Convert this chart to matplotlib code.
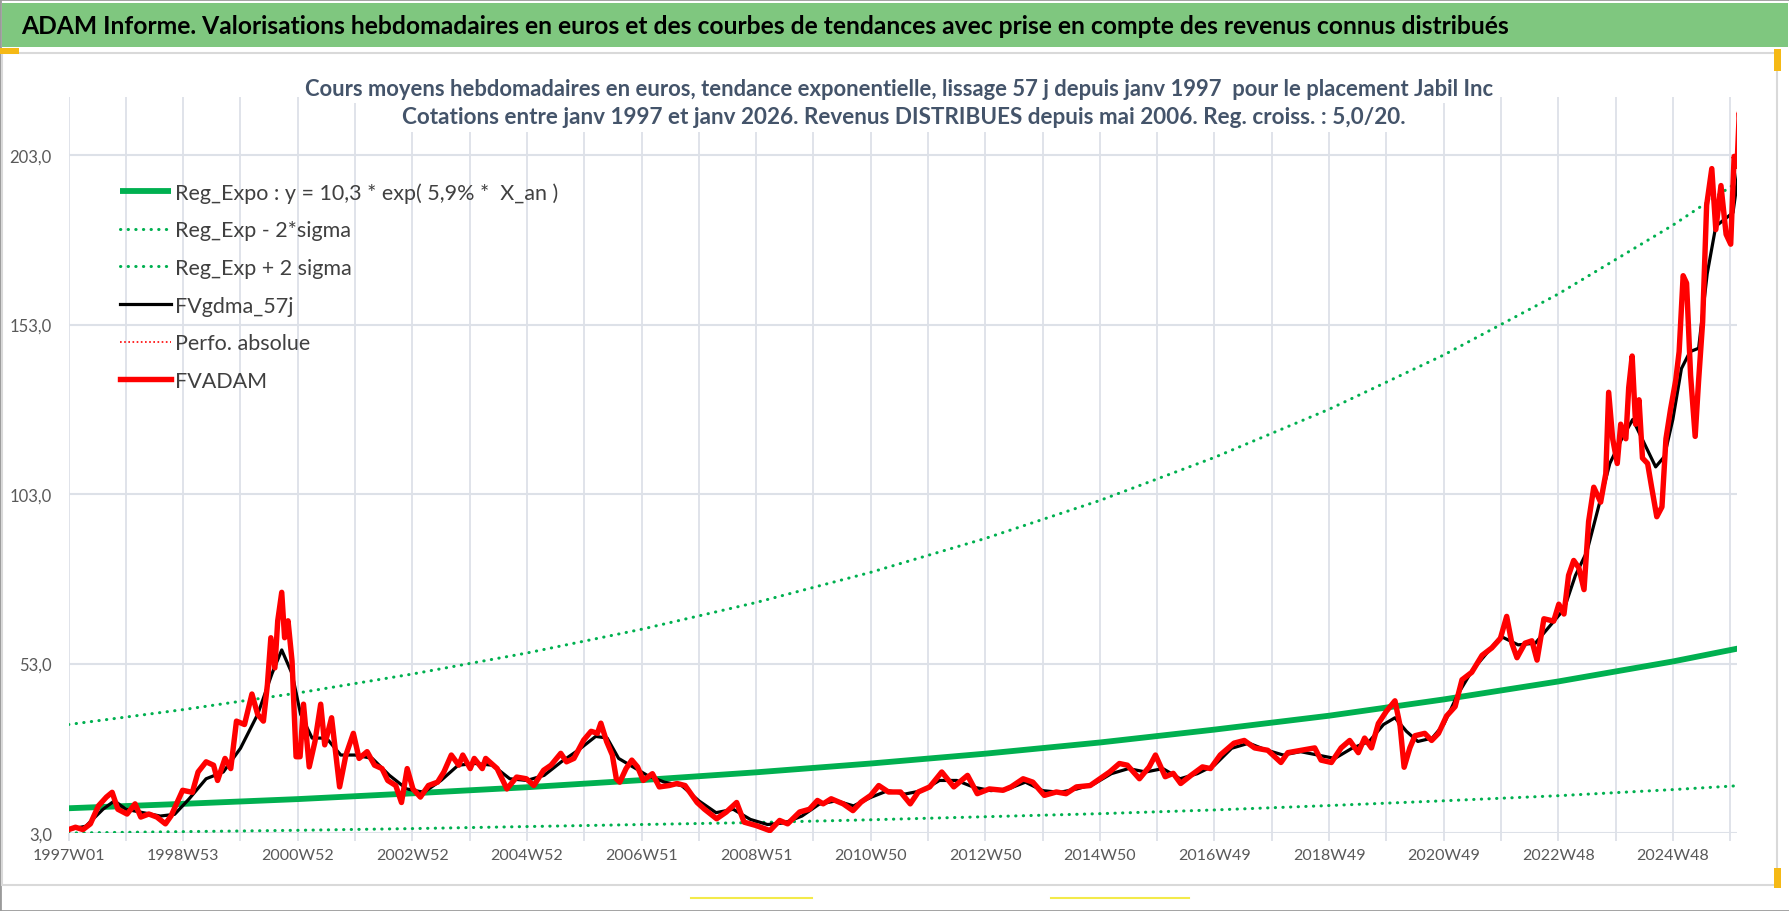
import matplotlib
matplotlib.use("Agg")
from matplotlib import pyplot as plt
from matplotlib.lines import Line2D
from matplotlib.patches import Rectangle

plt.rcParams['font.family'] = ['Lato', 'DejaVu Sans']

# années écoulées depuis 1997W01
t_adam = [0.0, 0.12, 0.25, 0.38, 0.52, 0.66, 0.76, 0.86, 1.02, 1.16, 1.26, 1.4, 1.54, 1.69, 1.79,
          1.99, 2.16, 2.26, 2.40, 2.53, 2.60, 2.73, 2.83, 2.93, 3.07, 3.20, 3.30, 3.40, 3.47, 3.53,
          3.60, 3.65, 3.72, 3.77, 3.83, 3.90, 3.97, 4.04, 4.10, 4.20, 4.30, 4.40, 4.47, 4.59, 4.73,
          4.84, 4.97, 5.07, 5.21, 5.34, 5.47, 5.57, 5.71, 5.81, 5.91, 6.01, 6.14, 6.28, 6.44, 6.55,
          6.68, 6.81, 6.88, 7.01, 7.08, 7.22, 7.28, 7.48, 7.65, 7.82, 7.99, 8.12, 8.29, 8.42, 8.59,
          8.69, 8.82, 8.99, 9.12, 9.23, 9.29, 9.39, 9.49, 9.56, 9.62, 9.73, 9.83, 9.93, 10.03, 10.19,
          10.31, 10.48, 10.62, 10.76, 10.97, 11.10, 11.31, 11.48, 11.66, 11.79, 12.0, 12.24, 12.41,
          12.55, 12.76, 12.93, 13.07, 13.17, 13.31, 13.52, 13.69, 13.83, 14.0, 14.14, 14.31, 14.52,
          14.69, 14.83, 15.03, 15.24, 15.45, 15.69, 15.86, 16.07, 16.31, 16.45, 16.66, 16.83, 17.03,
          17.24, 17.41, 17.59, 17.83, 18.0, 18.17, 18.34, 18.48, 18.69, 18.86, 18.97, 19.14, 19.28,
          19.41, 19.59, 19.79, 19.93, 20.10, 20.34, 20.52, 20.70, 20.93, 21.16, 21.28, 21.51, 21.75,
          21.86, 22.04, 22.21, 22.36, 22.51, 22.62, 22.74, 22.86, 23.0, 23.15, 23.24, 23.31, 23.41,
          23.50, 23.67, 23.79, 23.91, 24.05, 24.20, 24.32, 24.49, 24.67, 24.84, 24.99, 25.10, 25.19,
          25.28, 25.42, 25.54, 25.63, 25.75, 25.92, 26.01, 26.10, 26.18, 26.27, 26.36, 26.45, 26.53,
          26.62, 26.74, 26.83, 26.88, 26.95, 27.03, 27.09, 27.18, 27.23, 27.29, 27.35, 27.41, 27.47,
          27.56, 27.63, 27.72, 27.81, 27.88, 27.96, 28.05, 28.11, 28.18, 28.24, 28.31, 28.39, 28.45,
          28.52, 28.59, 28.68, 28.75, 28.84, 28.93, 29.01, 29.07, 29.12, 29.16, 29.19]
fvadam = [4.0, 4.7, 4.0, 5.7, 11.0, 13.6, 15.0, 10.0, 8.6, 11.6, 7.7, 8.6, 7.7, 5.7, 8.1,
          15.6, 15.0, 21.0, 24.0, 23.0, 18.5, 25.0, 22.0, 36.0, 35.0, 44.0, 38.0, 36.0, 46.8, 60.6,
          51.7, 65.6, 74.0, 60.6, 65.6, 53.7, 25.5, 25.5, 41.0, 22.5, 30.0, 41.0, 29.0, 37.0, 16.6,
          26.0, 32.4, 25.0, 27.0, 23.0, 22.0, 18.5, 17.0, 12.0, 22.0, 16.0, 13.6, 17.0, 18.0, 21.0,
          26.0, 23.0, 26.0, 22.0, 25.0, 22.0, 25.0, 22.0, 16.0, 19.5, 19.0, 17.0, 21.5, 23.0, 26.5,
          24.0, 25.0, 30.4, 33.0, 32.4, 35.4, 30.0, 26.0, 19.0, 18.0, 22.0, 24.5, 22.5, 18.5, 20.5,
          16.6, 17.0, 17.6, 17.0, 12.0, 10.0, 7.2, 9.2, 12.0, 6.2, 5.2, 3.7, 6.7,
          5.7, 9.2, 10.0, 12.6, 11.6, 13.1, 11.6, 9.6, 12.1, 14.1, 17.0, 15.1, 15.1,
          11.6, 15.1, 16.6, 21.0, 16.6, 20.0, 14.6, 16.0, 15.6, 16.6, 19.0, 18.0, 14.1,
          15.1, 14.6, 16.6, 17.0, 19.0, 21.0, 23.5, 23.0, 19.0, 22.5, 26.0, 19.6, 20.6,
          17.6, 20.0, 22.5, 22.0, 26.0, 29.5, 30.3, 28.1, 27.4, 23.8, 26.7, 27.4, 28.1,
          24.5, 23.8, 28.1, 30.3, 26.7, 31.0, 28.1, 35.3, 38.9, 42.0, 34.6, 22.4, 28.1,
          31.7, 32.4, 30.3, 32.4, 37.5, 40.3, 48.2, 50.4, 55.4, 57.6, 60.4, 66.9, 59.0,
          54.7, 59.0, 59.7, 54.0, 66.2, 65.5, 70.5, 67.6, 79.0, 83.4, 81.2, 74.8, 94.9,
          105.0, 100.6, 109.0, 133.0, 119.3, 112.0, 123.6, 119.3, 134.4, 143.7, 123.6, 130.8, 113.6,
          112.0, 105.0, 96.3, 99.2, 119.3, 128.0, 136.5, 145.0, 167.4, 165.2, 138.0, 120.0, 136.5,
          153.7, 188.2, 199.0, 181.0, 194.0, 179.6, 176.7, 202.6, 199.7, 215.5, 208.3]

t_gdma = [0.0, 0.3, 0.6, 0.8, 1.0, 1.3, 1.6, 1.85, 2.1, 2.4, 2.7, 3.0, 3.3, 3.55, 3.72, 3.9,
          4.05, 4.25, 4.5, 4.75, 5.0, 5.3, 5.6, 5.9, 6.2, 6.5, 6.8, 7.1, 7.4, 7.7, 8.0, 8.3,
          8.6, 8.9, 9.2, 9.4, 9.6, 9.85, 10.1, 10.4, 10.7, 11.0, 11.3, 11.6, 11.9, 12.2, 12.5,
          12.8, 13.1, 13.4, 13.7, 14.0, 14.3, 14.6, 14.9, 15.2, 15.5, 15.8, 16.1, 16.4, 16.7,
          17.0, 17.3, 17.6, 17.9, 18.2, 18.5, 18.8, 19.1, 19.4, 19.7, 20.0, 20.3, 20.6, 20.9,
          21.2, 21.5, 21.8, 22.1, 22.4, 22.7, 22.95, 23.15, 23.35, 23.55, 23.8, 24.0, 24.25,
          24.5, 24.75, 25.0, 25.3, 25.6, 25.85, 26.1, 26.3, 26.5, 26.7, 26.9, 27.1, 27.3, 27.5,
          27.7, 27.85, 28.0, 28.15, 28.3, 28.45, 28.6, 28.75, 28.9, 29.05, 29.19]
fvgdma = [4.0, 5.0, 10.0, 12.5, 10.0, 9.0, 8.0, 8.5, 13.0, 19.0, 21.0, 28.0, 38.0, 50.0, 57.0, 50.0,
          38.0, 31.0, 31.0, 26.0, 26.0, 25.0, 20.0, 16.0, 15.0, 18.5, 23.0, 23.5, 23.0, 19.0, 18.5, 20.0,
          24.0, 27.5, 31.5, 31.0, 25.0, 22.5, 20.0, 18.0, 17.0, 12.5, 9.0, 10.0, 7.0, 5.5, 6.0,
          8.0, 11.5, 12.5, 11.0, 13.5, 15.5, 14.5, 15.5, 18.5, 18.5, 16.5, 15.5, 16.0, 18.0,
          15.5, 15.0, 16.0, 17.5, 20.5, 22.0, 21.0, 22.0, 19.0, 20.5, 23.0, 28.0, 29.5, 27.5,
          26.0, 27.0, 26.0, 25.0, 28.0, 30.0, 35.0, 37.0, 33.0, 30.0, 31.0, 35.0, 44.0,
          51.0, 56.0, 61.0, 58.5, 59.0, 64.0, 69.0, 79.0, 86.0, 99.0, 112.0, 119.0, 125.0, 118.0,
          111.0, 114.0, 125.0, 140.0, 145.0, 146.0, 168.0, 182.0, 184.0, 186.0, 203.0]

t_reg = [0, 2, 4, 6, 8, 10, 12, 14, 16, 18, 20, 22, 24, 26, 28, 29.19]
reg_expo = [10.3, 11.6, 13.0, 14.7, 16.5, 18.6, 20.9, 23.5, 26.4, 29.7, 33.5, 37.6, 42.4, 47.7, 53.6, 57.6]
reg_moins = [3.0, 3.4, 3.8, 4.3, 4.9, 5.5, 6.1, 6.9, 7.8, 8.7, 9.8, 11.1, 12.5, 14.0, 15.8, 17.0]
reg_plus = [35.0, 39.4, 44.3, 49.9, 56.1, 63.1, 71.0, 79.9, 89.9, 101.1, 113.8, 128.0, 144.0, 162.0, 182.3, 195.7]

xlabels = ['1997W01', '1998W53', '2000W52', '2002W52', '2004W52', '2006W51', '2008W51',
           '2010W50', '2012W50', '2014W50', '2016W49', '2018W49', '2020W49', '2022W48', '2024W48']
yticks = [3, 53, 103, 153, 203]

VERT = '#00B050'
GRID = '#DDE1E8'

fig = plt.figure(figsize=(17.9, 9.12), dpi=100)
W, H = 1790, 912

def fx(px):
    return px / W
def fy(py):
    return 1 - py / H

# cadre et bandeau
fig.patches.append(Rectangle((0, 0), 1, 1, transform=fig.transFigure, fill=False,
                             edgecolor='#9a9a9a', lw=2, zorder=0))
fig.patches.append(Rectangle((fx(2), fy(48)), fx(1786), 44 / H, transform=fig.transFigure,
                             facecolor='#7fc77f', edgecolor='none', zorder=1))
fig.patches.append(Rectangle((fx(2), fy(886)), fx(1775), 832 / H, transform=fig.transFigure,
                             fill=False, edgecolor='#d9d9d9', lw=1.5, zorder=1))
fig.patches.append(Rectangle((0, fy(55)), fx(19), 6 / H, transform=fig.transFigure,
                             facecolor='#f5b915', edgecolor='none', zorder=2))
fig.patches.append(Rectangle((fx(1774), fy(72)), fx(7), 22 / H, transform=fig.transFigure,
                             facecolor='#f5b915', edgecolor='none', zorder=2))
fig.patches.append(Rectangle((fx(1774), fy(889)), fx(7), 20 / H, transform=fig.transFigure,
                             facecolor='#f5b915', edgecolor='none', zorder=2))
for xa, xb in [(691, 812), (1051, 1189)]:
    fig.lines.append(Line2D([fx(xa), fx(xb)], [fy(899), fy(899)], transform=fig.transFigure,
                            color='#f3ea4a', lw=1.5))

fig.text(fx(21), fy(26), "ADAM Informe. Valorisations hebdomadaires en euros et des courbes de tendances "
         "avec prise en compte des revenus connus distribués",
         ha='left', va='center', fontsize=17.7, fontweight='bold', color='black')

ax = fig.add_axes([fx(68.6), fy(834), fx(1737 - 68.6), (834 - 98.4) / H])

ax.plot(t_reg, reg_expo, color=VERT, lw=4.2, solid_capstyle='butt',
        label='Reg_Expo : y = 10,3 * exp( 5,9% *  X_an )')
ax.plot(t_reg, reg_moins, color=VERT, lw=2.2, linestyle=(0, (0.1, 2.4)), dash_capstyle='round',
        label='Reg_Exp - 2*sigma')
ax.plot(t_reg, reg_plus, color=VERT, lw=2.2, linestyle=(0, (0.1, 2.4)), dash_capstyle='round',
        label='Reg_Exp + 2 sigma')
ax.plot(t_gdma, fvgdma, color='black', lw=2.3, label='FVgdma_57j')
ax.plot(t_adam, fvadam, color='#ff0000', lw=1.2, linestyle=(0, (1, 1.5)), label='Perfo. absolue')
ax.plot(t_adam, fvadam, color='#ff0000', lw=3.9, solid_joinstyle='round', label='FVADAM')

ax.set_xlim(0, 29.12)
ax.set_ylim(3, 220)
ax.set_xticks(range(0, 29, 2))
ax.set_xticklabels(xlabels)
ax.set_xticks(range(1, 30, 2), minor=True)
ax.set_yticks(yticks)
ax.set_yticklabels(['{:.1f}'.format(v).replace('.', ',') for v in yticks])
ax.grid(True, which='both', axis='x', color=GRID, lw=1.3)
ax.grid(True, which='major', axis='y', color=GRID, lw=1.5)
ax.set_axisbelow(True)
for s in ax.spines.values():
    s.set_visible(False)
ax.tick_params(axis='x', which='both', direction='out', length=6, width=1.3, color=GRID,
               labelsize=11.5, labelcolor='#595959', pad=5)
ax.tick_params(axis='y', length=0, labelsize=12, labelcolor='#595959', pad=12)

leg = ax.legend(loc='upper left', bbox_to_anchor=(0.031, 0.885), frameon=False, fontsize=15.5,
                borderpad=0, borderaxespad=0, handlelength=2.35, handletextpad=0.2,
                labelspacing=0.82)
for txt in leg.get_texts():
    txt.set_color('#404040')

titre_bbox = dict(facecolor='white', edgecolor='none', pad=3)
fig.text(0.502, fy(89), "Cours moyens hebdomadaires en euros, tendance exponentielle, lissage 57 j "
         "depuis janv 1997  pour le placement Jabil Inc",
         ha='center', va='center', fontsize=15.8, fontweight='bold', color='#44546A', bbox=titre_bbox)
fig.text(0.505, fy(118), "Cotations entre janv 1997 et janv 2026. Revenus DISTRIBUES depuis mai 2006. "
         "Reg. croiss. : 5,0/20.",
         ha='center', va='center', fontsize=16.2, fontweight='bold', color='#44546A', bbox=titre_bbox)

fig.savefig('out.png', dpi=100)
